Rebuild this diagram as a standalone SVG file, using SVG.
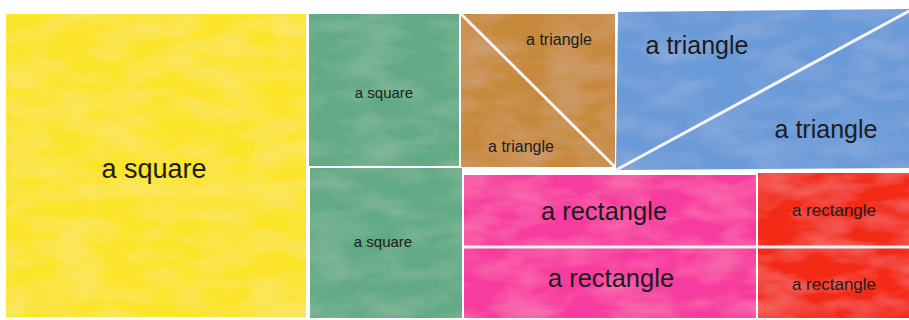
<svg xmlns="http://www.w3.org/2000/svg" width="909" height="320" viewBox="0 0 909 320">
  <defs>
    <filter id="wash" x="0" y="0" width="100%" height="100%">
      <feTurbulence type="fractalNoise" baseFrequency="0.02 0.05" numOctaves="3" seed="4" result="n"/>
      <feColorMatrix in="n" type="matrix" values="0 0 0 0 1  0 0 0 0 1  0 0 0 0 1  0 0 0 0.22 -0.08" result="m"/>
      <feComposite in="m" in2="SourceGraphic" operator="in" result="c"/>
      <feMerge><feMergeNode in="SourceGraphic"/><feMergeNode in="c"/></feMerge>
    </filter>
  </defs>
  <style>
    text { font-family: "Liberation Sans", Arial, sans-serif; fill: #1c1c1c; text-anchor: middle; }
    .cut { stroke: #f4f4f4; stroke-width: 3; fill: none; }
  </style>
  <rect width="909" height="320" fill="#ffffff"/>

  <g id="yellow-square">
    <rect x="6" y="14" width="300" height="303" fill="#fbe42c" filter="url(#wash)"/>
    <text x="154" y="178" font-size="27">a square</text>
  </g>

  <g id="green-square-top">
    <rect x="309" y="14" width="150" height="152" fill="#62aa85" filter="url(#wash)"/>
    <text x="384" y="98" font-size="15">a square</text>
  </g>

  <g id="green-square-bottom">
    <rect x="310" y="168" width="152" height="150" fill="#62aa85" filter="url(#wash)"/>
    <text x="383" y="247" font-size="15">a square</text>
  </g>

  <g id="brown-triangles">
    <rect x="461" y="14" width="154" height="153" fill="#c78a3e" filter="url(#wash)"/>
    <line class="cut" x1="461" y1="14" x2="615" y2="167"/>
    <text x="559" y="45" font-size="16">a triangle</text>
    <text x="521" y="152" font-size="16">a triangle</text>
  </g>

  <g id="blue-triangles">
    <polygon points="618,12 909,9 909,168 616,170" fill="#6b9ad8" filter="url(#wash)"/>
    <line class="cut" x1="616" y1="170" x2="909" y2="11"/>
    <text x="697" y="54" font-size="25">a triangle</text>
    <text x="826" y="138" font-size="25">a triangle</text>
  </g>

  <g id="pink-rectangles">
    <rect x="464" y="175" width="292" height="143" fill="#f83b9f" filter="url(#wash)"/>
    <line class="cut" x1="464" y1="247" x2="756" y2="247"/>
    <text x="604" y="220" font-size="25.5" fill="#2a0a18">a rectangle</text>
    <text x="611" y="287" font-size="25.5" fill="#2a0a18">a rectangle</text>
  </g>

  <g id="red-rectangles">
    <rect x="758" y="173" width="151" height="145" fill="#f32c12" filter="url(#wash)"/>
    <line class="cut" x1="758" y1="247" x2="909" y2="247"/>
    <text x="834" y="216" font-size="17" fill="#3a0800">a rectangle</text>
    <text x="834" y="290" font-size="17" fill="#3a0800">a rectangle</text>
  </g>
</svg>
